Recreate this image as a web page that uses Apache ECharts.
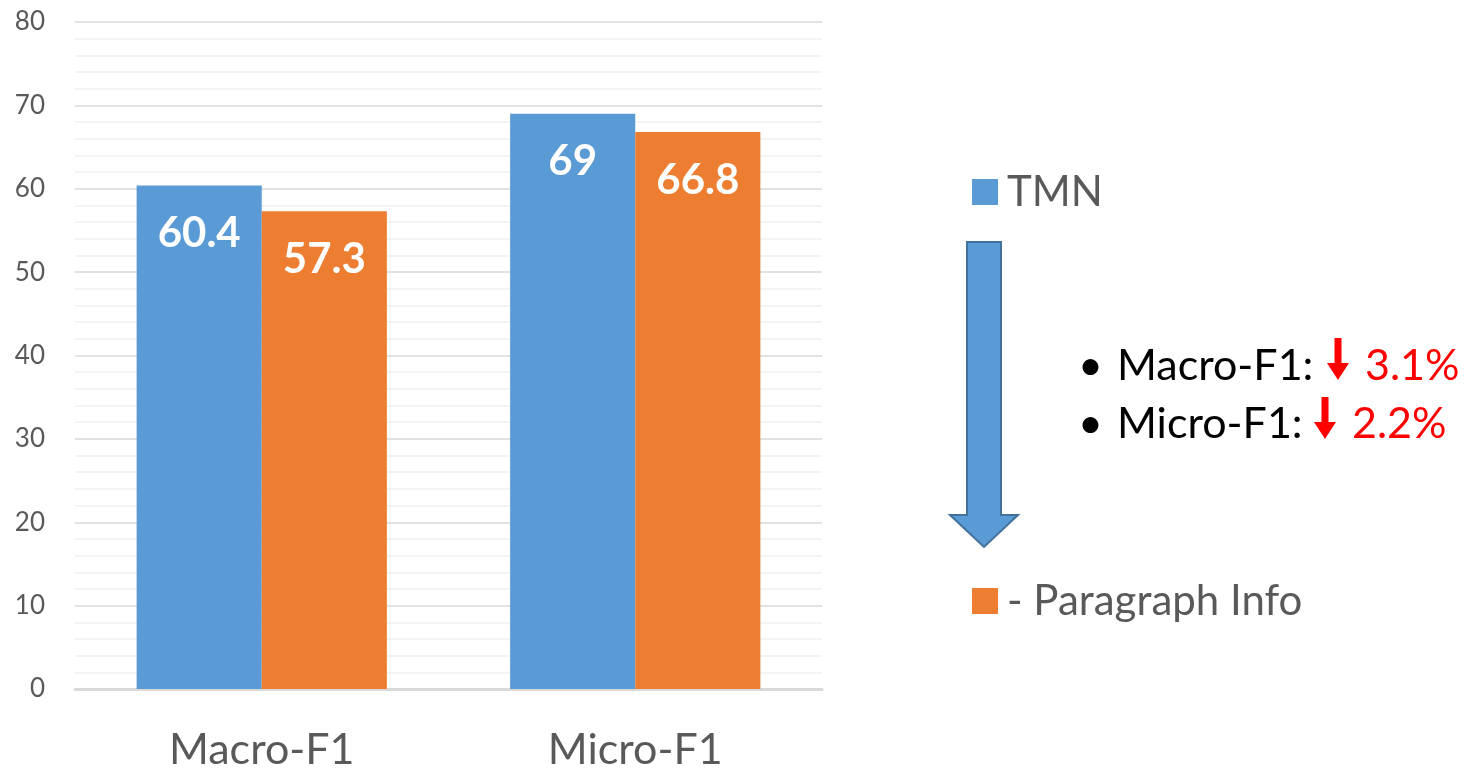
<!DOCTYPE html>
<html>
<head>
<meta charset="utf-8">
<script src="https://cdn.jsdelivr.net/npm/echarts@6/dist/echarts.min.js"></script>
<style>
  html, body { margin: 0; padding: 0; background: #fff; }
  #chart { width: 1466px; height: 768px; }
</style>
</head>
<body>
<div id="chart"></div>
<script>
// Metrics compared between the full model and the ablated variant
const categories = ['Macro-F1', 'Micro-F1'];
const seriesNames = ['TMN', '- Paragraph Info'];
const tmnValues = [60.4, 69];
const noParaValues = [57.3, 66.8];
const yTicks = [0, 10, 20, 30, 40, 50, 60, 70, 80];

const FONT = 'Lato, "Open Sans", sans-serif';
const BLUE = '#5b9bd5';
const ORANGE = '#ed7d31';
const GREY = '#595959';

// Drop of each metric when paragraph info is removed
const drops = categories.map((c, i) => (tmnValues[i] - noParaValues[i]).toFixed(1) + '%');

const chart = echarts.init(document.getElementById('chart'), null, { renderer: 'canvas' });

const barLabel = {
  show: true,
  position: 'insideTop',
  distance: 27,
  color: '#fff',
  fontSize: 42,
  fontWeight: 'bold',
  fontFamily: FONT
};

// Thick red down arrow drawn beside each drop figure
function redArrow(x, yTop) {
  const w = 22, shaft = 7, h = 42, head = 17;
  return {
    type: 'polygon',
    shape: {
      points: [
        [x + (w - shaft) / 2, yTop],
        [x + (w + shaft) / 2, yTop],
        [x + (w + shaft) / 2, yTop + h - head],
        [x + w, yTop + h - head],
        [x + w / 2, yTop + h],
        [x, yTop + h - head],
        [x + (w - shaft) / 2, yTop + h - head]
      ]
    },
    style: { fill: '#ff0000' },
    z: 10
  };
}

function textEl(x, y, text, color) {
  return {
    type: 'text',
    x: x, y: y,
    style: {
      text: text,
      fill: color,
      fontSize: 43,
      fontFamily: FONT,
      textAlign: 'left',
      textVerticalAlign: 'middle'
    },
    z: 10
  };
}

const option = {
  animation: false,
  backgroundColor: '#fff',
  grid: { left: 75, right: 644, top: 22, bottom: 79, containLabel: false, outerBoundsMode: 'none' },
  legend: {
    data: seriesNames,
    orient: 'vertical',
    left: 967,
    top: 166,
    itemWidth: 26,
    itemHeight: 26,
    itemGap: 367,
    icon: 'rect',
    textStyle: { color: GREY, fontSize: 42, fontFamily: FONT, padding: [0, 0, 0, 4] }
  },
  xAxis: {
    type: 'category',
    data: categories,
    axisTick: { show: false },
    axisLine: { show: true, lineStyle: { color: '#d9d9d9', width: 3 } },
    axisLabel: { color: GREY, fontSize: 43, fontFamily: FONT, margin: 40 }
  },
  yAxis: {
    type: 'value',
    min: yTicks[0],
    max: yTicks[yTicks.length - 1],
    interval: 10,
    axisLine: { show: false },
    axisTick: { show: false },
    axisLabel: { color: GREY, fontSize: 26, fontFamily: FONT, margin: 30 },
    splitLine: { show: true, lineStyle: { color: '#d9d9d9', width: 1.5 } },
    minorTick: { show: false, splitNumber: 5 },
    minorSplitLine: { show: true, lineStyle: { color: '#f0f0f0', width: 1.5 } }
  },
  series: [
    {
      name: seriesNames[0],
      type: 'bar',
      data: tmnValues,
      barWidth: '33.5%',
      barGap: '0%',
      itemStyle: { color: BLUE },
      label: barLabel
    },
    {
      name: seriesNames[1],
      type: 'bar',
      data: noParaValues,
      barWidth: '33.5%',
      itemStyle: { color: ORANGE },
      label: barLabel
    }
  ],
  graphic: [
    {
      type: 'polygon',
      shape: {
        points: [[967, 242], [1001, 242], [1001, 515], [1018, 515], [984, 547], [950, 515], [967, 515]]
      },
      style: { fill: BLUE, stroke: '#41719c', lineWidth: 2 },
      z: 10
    },
    textEl(1078, 366, '•', '#000'),
    textEl(1117, 366, categories[0] + ':', '#000'),
    redArrow(1327, 338),
    textEl(1365, 366, drops[0], '#ff0000'),
    textEl(1078, 424, '•', '#000'),
    textEl(1117, 424, categories[1] + ':', '#000'),
    redArrow(1314, 397),
    textEl(1352, 424, drops[1], '#ff0000')
  ]
};

chart.setOption(option);
</script>
</body>
</html>
